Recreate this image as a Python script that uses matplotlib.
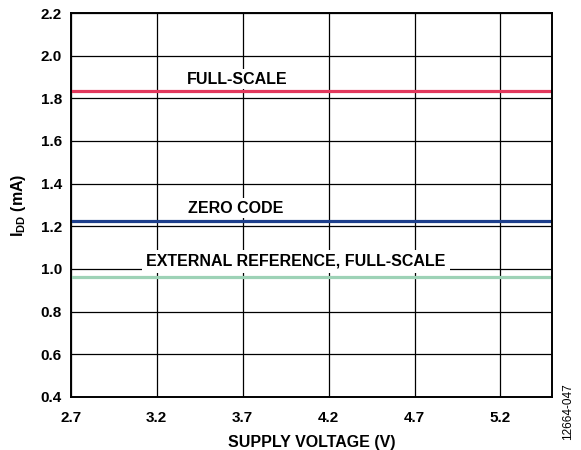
import matplotlib
matplotlib.use("Agg")
import matplotlib.pyplot as plt

plt.rcParams['font.family'] = ['Liberation Sans', 'DejaVu Sans']
plt.rcParams['mathtext.fontset'] = 'custom'
plt.rcParams['mathtext.rm'] = 'Liberation Sans:bold'

# Supply current vs. supply voltage
supply_voltage = [2.7, 3.2, 3.7, 4.2, 4.7, 5.2, 5.5]
idd_full_scale = [1.834, 1.834, 1.834, 1.834, 1.834, 1.834, 1.834]
idd_zero_code = [1.227, 1.227, 1.227, 1.227, 1.227, 1.227, 1.227]
idd_ext_ref_full_scale = [0.962, 0.962, 0.962, 0.962, 0.962, 0.962, 0.962]

x_ticks = [2.7, 3.2, 3.7, 4.2, 4.7, 5.2]
y_ticks = [0.4, 0.6, 0.8, 1.0, 1.2, 1.4, 1.6, 1.8, 2.0, 2.2]

fig = plt.figure(figsize=(5.81, 4.5), dpi=100)
ax = fig.add_axes([0.122, 0.118, 0.828, 0.853])

ax.plot(supply_voltage, idd_full_scale, color='#E2385C', lw=2.3, zorder=3, solid_capstyle='butt')
ax.plot(supply_voltage, idd_zero_code, color='#1D3F8C', lw=2.3, zorder=3, solid_capstyle='butt')
ax.plot(supply_voltage, idd_ext_ref_full_scale, color='#9DD2B6', lw=2.3, zorder=3, solid_capstyle='butt')

ax.set_xlim(2.7, 5.5)
ax.set_ylim(0.4, 2.2)
ax.set_xticks(x_ticks)
ax.set_yticks(y_ticks)
ax.set_xticklabels([f"{v:.1f}" for v in x_ticks], fontsize=11, fontweight='bold')
ax.set_yticklabels([f"{v:.1f}" for v in y_ticks], fontsize=11, fontweight='bold')
ax.tick_params(axis='x', length=0, pad=10)
ax.tick_params(axis='y', length=0, pad=6.5)

ax.grid(True, color='black', lw=0.9, zorder=1)
ax.set_axisbelow(True)
for s in ax.spines.values():
    s.set_linewidth(1.4)
    s.set_zorder(4)

ax.set_xlabel('SUPPLY VOLTAGE (V)', fontsize=11.5, fontweight='bold', labelpad=7)
ax.set_ylabel('I$_{\\mathrm{DD}}$ (mA)', fontsize=11.5, fontweight='bold', labelpad=9)

box = dict(facecolor='white', edgecolor='none', pad=2)
ax.text(3.67, 1.89, 'FULL-SCALE', fontsize=11.5, fontweight='bold',
        ha='center', va='center', bbox=box, zorder=2)
ax.text(3.66, 1.285, 'ZERO CODE', fontsize=11.5, fontweight='bold',
        ha='center', va='center', bbox=box, zorder=2)
ax.text(4.01, 1.035, 'EXTERNAL REFERENCE, FULL-SCALE', fontsize=11.5, fontweight='bold',
        ha='center', va='center', bbox=dict(facecolor='white', edgecolor='none', pad=3), zorder=2)

fig.text(0.977, 0.085, '12664-047', rotation=90, fontsize=8.5, ha='center', va='center')

fig.savefig('out.png', dpi=100)
